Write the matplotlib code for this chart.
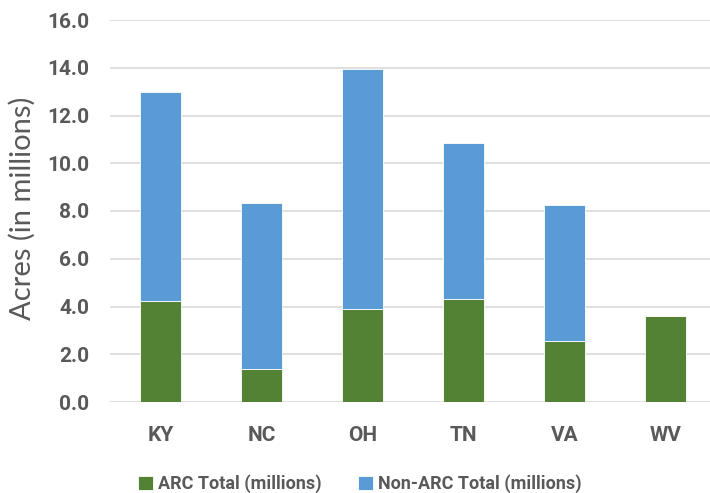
import matplotlib
matplotlib.use("Agg")
import matplotlib.pyplot as plt
import numpy as np

states = ["KY", "NC", "OH", "TN", "VA", "WV"]
arc_total = [4.23, 1.38, 3.90, 4.31, 2.55, 3.60]
non_arc_total = [8.77, 6.97, 10.05, 6.54, 5.70, 0.0]
yticks = [0, 2, 4, 6, 8, 10, 12, 14, 16]

fam = ["Roboto", "DejaVu Sans"]

green = "#548235"
blue = "#5B9BD5"
txt = "#595959"

fig = plt.figure(figsize=(7.10, 4.93), dpi=100)
ax = fig.add_axes([110/710, (493-402)/493, 606/710, 382/493])

x = np.arange(len(states))
ax.bar(x, arc_total, width=0.4, color=green, edgecolor="white", linewidth=0.6,
       label="ARC Total (millions)", zorder=3)
ax.bar(x, non_arc_total, width=0.4, bottom=arc_total, color=blue, edgecolor="white",
       linewidth=0.6, label="Non-ARC Total (millions)", zorder=3)

ax.set_xlim(-0.5, len(states) - 0.5)
ax.set_ylim(0, 16)
ax.set_yticks(yticks)
ax.set_yticklabels([f"{v:.1f}" for v in yticks], family=fam, fontsize=15,
                   fontweight="bold", color=txt)
ax.set_xticks(x)
ax.set_xticklabels(states, family=fam, fontsize=15, fontweight="bold", color=txt)
ax.tick_params(axis="both", length=0)
ax.tick_params(axis="y", pad=15)
ax.tick_params(axis="x", pad=17)
ax.yaxis.grid(True, color="#D9D9D9", linewidth=1.2, zorder=0)
for s in ax.spines.values():
    s.set_visible(False)

fig.text(22/710, 1 - 208/493, "Acres (in millions)", rotation=90, ha="center",
         va="center", fontsize=21, color=txt, family=["Lato", "DejaVu Sans"])

leg = fig.legend(loc="center", bbox_to_anchor=(360/710, 1 - 484/493), ncol=2,
                 frameon=False, prop={"family": fam, "size": 13, "weight": "bold"},
                 handlelength=0.8, handleheight=0.8, handletextpad=0.3,
                 columnspacing=2.0)
for t in leg.get_texts():
    t.set_color(txt)

fig.savefig("out.png", dpi=100)
